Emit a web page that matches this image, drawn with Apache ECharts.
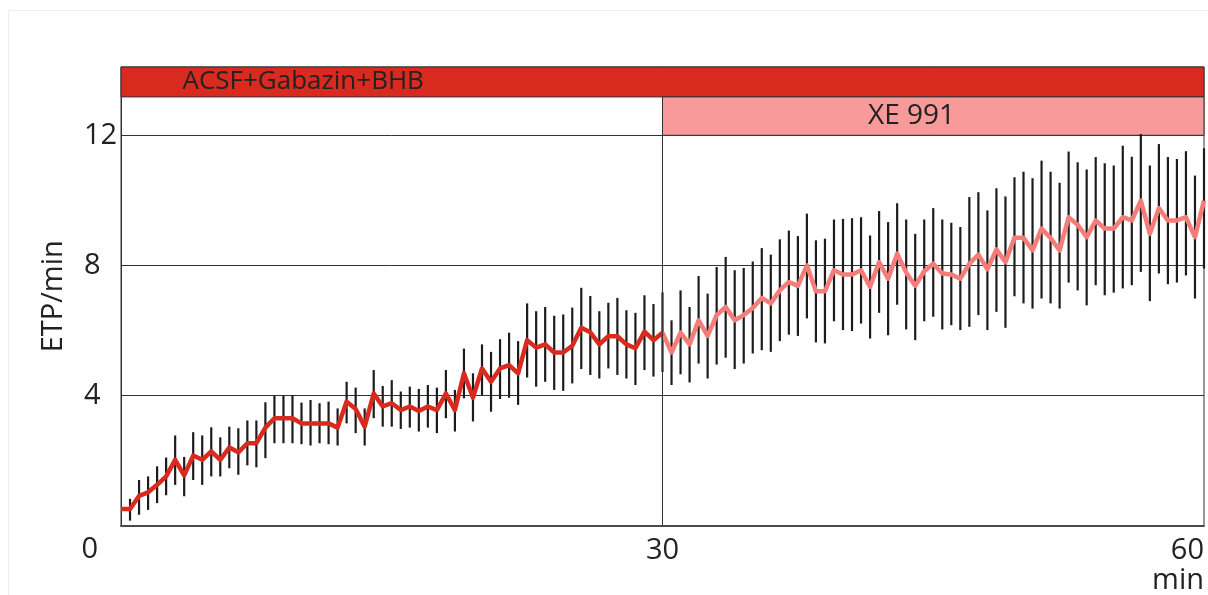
<!DOCTYPE html>
<html>
<head>
<meta charset="utf-8">
<script src="https://cdn.jsdelivr.net/npm/echarts@6/dist/echarts.min.js"></script>
<style>
  html, body { margin: 0; padding: 0; background: #ffffff; }
  #chart { width: 1208px; height: 595px; }
</style>
</head>
<body>
<div id="chart"></div>
<script>
// Sampling interval of the recording, in minutes
const SAMPLE_STEP = 0.5;

// Mean event rate (ETP/min) per sample, from 0 to 60 min
const meanEtp = [
  0.51, 0.51, 0.91, 1.02, 1.25, 1.51, 2.02, 1.54, 2.15, 2.02,
  2.28, 2.02, 2.40, 2.25, 2.53, 2.53, 3.01, 3.30, 3.30, 3.30,
  3.14, 3.14, 3.14, 3.14, 3.01, 3.81, 3.58, 3.04, 4.06, 3.66,
  3.76, 3.55, 3.66, 3.52, 3.66, 3.55, 4.06, 3.55, 4.68, 3.93,
  4.83, 4.42, 4.83, 4.93, 4.68, 5.70, 5.47, 5.57, 5.32, 5.32,
  5.53, 6.08, 5.94, 5.57, 5.82, 5.82, 5.57, 5.45, 5.96, 5.70,
  5.93, 5.32, 5.93, 5.57, 6.31, 5.83, 6.47, 6.72, 6.31, 6.47,
  6.69, 7.00, 6.83, 7.23, 7.49, 7.37, 8.00, 7.20, 7.20, 7.85,
  7.72, 7.72, 7.85, 7.34, 8.10, 7.59, 8.36, 7.78, 7.37, 7.82,
  8.05, 7.75, 7.72, 7.59, 8.05, 8.33, 7.88, 8.49, 8.10, 8.85,
  8.85, 8.46, 9.13, 8.84, 8.46, 9.48, 9.25, 8.87, 9.38, 9.13,
  9.13, 9.48, 9.38, 9.99, 8.97, 9.76, 9.38, 9.38, 9.48, 8.87,
  9.99
];

// Lower end of the error bar per sample
const lowEtp = [
  null, 0.15, 0.33, 0.48, 0.69, 0.93, 1.25, 0.90, 1.40, 1.25,
  1.51, 1.51, 1.76, 1.56, 1.85, 1.79, 2.07, 2.53, 2.53, 2.53,
  2.50, 2.46, 2.53, 2.50, 2.46, 3.14, 2.84, 2.46, 3.30, 3.04,
  3.04, 2.97, 3.01, 2.89, 3.01, 2.84, 3.30, 2.89, 3.91, 3.20,
  4.01, 3.50, 3.89, 3.93, 3.71, 4.55, 4.27, 4.42, 4.17, 4.14,
  4.37, 4.81, 4.63, 4.52, 4.83, 4.63, 4.52, 4.32, 4.78, 4.58,
  4.72, 4.32, 4.65, 4.40, 4.98, 4.52, 4.95, 5.16, 4.81, 4.98,
  5.29, 5.39, 5.34, 5.67, 5.87, 5.83, 6.37, 5.63, 5.60, 6.28,
  6.01, 5.98, 6.21, 5.75, 6.54, 5.85, 6.79, 6.03, 5.70, 6.28,
  6.42, 6.03, 6.16, 6.01, 6.11, 6.47, 6.01, 6.57, 6.08, 7.05,
  6.83, 6.67, 6.98, 6.83, 6.67, 7.47, 7.23, 6.77, 7.39, 7.08,
  7.16, 7.29, 7.39, 7.80, 6.90, 7.75, 7.42, 7.47, 7.69, 6.98,
  7.90
];

// Upper end of the error bar per sample
const highEtp = [
  null, 0.82, 1.40, 1.51, 1.82, 2.09, 2.77, 2.11, 2.87, 2.77,
  3.02, 2.71, 3.04, 2.99, 3.23, 3.23, 3.79, 3.99, 3.99, 4.01,
  3.78, 3.86, 3.76, 3.81, 3.60, 4.42, 4.24, 3.60, 4.78, 4.29,
  4.47, 4.12, 4.27, 4.20, 4.32, 4.24, 4.78, 4.17, 5.44, 4.68,
  5.57, 5.34, 5.73, 5.93, 5.67, 6.83, 6.59, 6.72, 6.45, 6.49,
  6.70, 7.31, 7.06, 6.59, 6.85, 7.00, 6.62, 6.54, 7.08, 6.81,
  7.17, 6.31, 7.23, 6.72, 7.67, 7.13, 7.95, 8.26, 7.85, 7.92,
  8.12, 8.53, 8.33, 8.80, 9.07, 8.90, 9.59, 8.77, 8.82, 9.41,
  9.43, 9.45, 9.48, 8.92, 9.67, 9.33, 9.91, 9.41, 8.97, 9.41,
  9.76, 9.41, 9.31, 9.18, 10.10, 10.25, 9.69, 10.37, 10.12, 10.71,
  10.88, 10.68, 11.22, 10.88, 10.54, 11.50, 11.17, 10.95, 11.33, 11.14,
  11.07, 11.68, 11.34, 12.04, 11.07, 11.73, 11.33, 11.27, 11.51, 10.76,
  11.60
];

// Treatment periods (minutes) shown as bars above the trace
const bathLabel = 'ACSF+Gabazin+BHB';
const bathPeriod = [0, 60];
const drugLabel = 'XE 991';
const drugPeriod = [30, 60];

// Axis ticks
const xTicks = [0, 30, 60];
const yTicks = [4, 8, 12];

// Vertical extent of the two treatment bars, in ETP/min units
const bathBarRange = [13.18, 14.1];
const drugBarRange = [12, 13.18];

const RED = '#d92a1f';
const PINK_LINE = '#f47c79';
const PINK_BAR = '#f89a9a';
const INK = '#222222';
const FONT = '"Open Sans", "Noto Sans", sans-serif';

const minutes = meanEtp.map((_, i) => i * SAMPLE_STEP);
const errorData = minutes.map((t, i) => [t, lowEtp[i], highEtp[i]]);
const baselineData = [];
const drugData = [];
minutes.forEach((t, i) => {
  if (t <= drugPeriod[0]) baselineData.push([t, meanEtp[i]]);
  if (t >= drugPeriod[0]) drugData.push([t, meanEtp[i]]);
});

const chart = echarts.init(document.getElementById('chart'), null, { renderer: 'canvas' });

const option = {
  animation: false,
  backgroundColor: '#ffffff',
  // faint frame around the figure panel
  graphic: [
    {
      type: 'rect',
      silent: true,
      shape: { x: 8.5, y: 10.5, width: 1220, height: 600 },
      style: { fill: 'none', stroke: '#ededed', lineWidth: 1 }
    }
  ],
  grid: {
    left: 121, right: 4, top: 67, bottom: 68,
    containLabel: false,
    show: true,
    borderColor: '#333333',
    borderWidth: 1,
    backgroundColor: 'transparent'
  },
  xAxis: {
    type: 'value',
    min: xTicks[0],
    max: xTicks[xTicks.length - 1],
    interval: xTicks[1] - xTicks[0],
    axisLine: { show: true, onZero: false, lineStyle: { color: '#4a4a4a', width: 2 } },
    axisTick: { show: false },
    splitLine: { show: false },
    axisLabel: {
      margin: 10,
      alignMinLabel: 'right',
      alignMaxLabel: 'right',
      color: INK,
      fontFamily: FONT,
      fontSize: 29,
      formatter: function (v) {
        if (v === xTicks[0]) return '{z|' + v + '}';
        if (v === xTicks[xTicks.length - 1]) return '{n|' + v + '}\n{n|min}';
        return '{n|' + v + '}';
      },
      rich: {
        z: { fontFamily: FONT, fontSize: 29, color: INK, padding: [0, 23, 0, 0] },
        n: { fontFamily: FONT, fontSize: 29, color: INK, align: 'right', lineHeight: 30 }
      }
    }
  },
  yAxis: {
    type: 'value',
    min: 0,
    max: bathBarRange[1],
    interval: yTicks[1] - yTicks[0],
    name: 'ETP/min',
    nameLocation: 'middle',
    nameRotate: 90,
    nameGap: 53,
    nameTextStyle: { color: INK, fontFamily: FONT, fontSize: 29 },
    axisLine: { show: true, lineStyle: { color: '#333333', width: 1 } },
    axisTick: { show: false },
    splitLine: { show: true, lineStyle: { color: '#333333', width: 1 } },
    axisLabel: {
      showMinLabel: false,
      showMaxLabel: false,
      align: 'left',
      margin: 37,
      color: INK,
      fontFamily: FONT,
      fontSize: 29,
      padding: [0, 0, 8, 0],
      formatter: function (v) { return yTicks.indexOf(v) >= 0 ? String(v) : ''; }
    }
  },
  series: [
    {
      name: 'error',
      type: 'custom',
      data: errorData,
      encode: { x: 0, y: [1, 2] },
      z: 2,
      silent: true,
      renderItem: function (params, api) {
        const lo = api.value(1), hi = api.value(2);
        if (lo == null || hi == null || isNaN(lo) || isNaN(hi)) return null;
        const p1 = api.coord([api.value(0), lo]);
        const p2 = api.coord([api.value(0), hi]);
        return {
          type: 'line',
          shape: { x1: p1[0], y1: p1[1], x2: p2[0], y2: p2[1] },
          style: { stroke: '#1c1c1c', lineWidth: 2.2 }
        };
      },
      markArea: {
        silent: true,
        z: 1,
        data: [
          [
            {
              xAxis: bathPeriod[0], yAxis: bathBarRange[0],
              itemStyle: { color: RED, borderColor: '#333333', borderWidth: 1 },
              label: {
                show: true, formatter: bathLabel, position: 'insideLeft', distance: 62,
                color: INK, fontFamily: FONT, fontSize: 26
              }
            },
            { xAxis: bathPeriod[1], yAxis: bathBarRange[1] }
          ],
          [
            {
              xAxis: drugPeriod[0], yAxis: drugBarRange[0],
              itemStyle: { color: PINK_BAR, borderColor: '#333333', borderWidth: 1 },
              label: {
                show: true, formatter: drugLabel, position: 'insideLeft', distance: 206,
                color: INK, fontFamily: FONT, fontSize: 28
              }
            },
            { xAxis: drugPeriod[1], yAxis: drugBarRange[1] }
          ]
        ]
      },
      markLine: {
        silent: true,
        symbol: ['none', 'none'],
        label: { show: false },
        lineStyle: { color: '#333333', width: 1, type: 'solid' },
        data: [
          [{ coord: [drugPeriod[0], 0] }, { coord: [drugPeriod[0], drugBarRange[0]] }]
        ]
      }
    },
    {
      name: 'ACSF+Gabazin+BHB',
      type: 'line',
      data: baselineData,
      showSymbol: false,
      symbol: 'none',
      z: 4,
      lineStyle: { color: RED, width: 4.5, join: 'round' }
    },
    {
      name: 'XE 991',
      type: 'line',
      data: drugData,
      showSymbol: false,
      symbol: 'none',
      z: 3,
      lineStyle: { color: PINK_LINE, width: 4.5, join: 'round' }
    }
  ]
};

chart.setOption(option);
</script>
</body>
</html>
